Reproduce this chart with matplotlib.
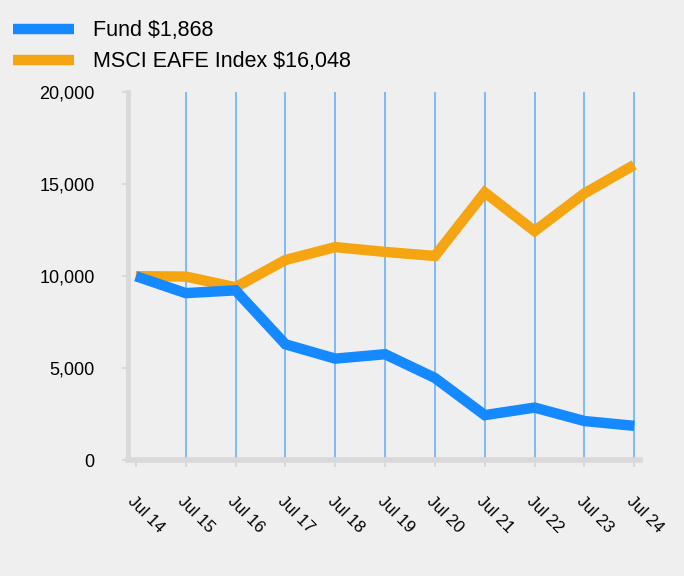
import matplotlib
matplotlib.use('Agg')
import matplotlib.pyplot as plt

# data
years = ['Jul 14', 'Jul 15', 'Jul 16', 'Jul 17', 'Jul 18', 'Jul 19',
         'Jul 20', 'Jul 21', 'Jul 22', 'Jul 23', 'Jul 24']
fund = [10000, 9080, 9230, 6300, 5520, 5760, 4470, 2450, 2860, 2130, 1868]
index = [10000, 9980, 9400, 10880, 11580, 11320, 11100, 14550, 12450, 14500, 16048]
fund_label = 'Fund $1,868'
index_label = 'MSCI EAFE Index $16,048'

BG = '#efefef'
BLUE = '#1589ff'
ORANGE = '#f5a512'
GRID = '#74b6fb'
SPINE = '#d9d9d9'

plt.rcParams['font.family'] = ['Liberation Sans', 'DejaVu Sans']

fig = plt.figure(figsize=(6.84, 5.76), dpi=100, facecolor=BG)
ax = fig.add_axes([0.187, 0.201, 0.749, 0.639], facecolor=BG)

x = list(range(len(years)))
l2, = ax.plot(x, index, color=ORANGE, lw=7.5, solid_joinstyle='miter',
              solid_capstyle='butt', zorder=3)
l1, = ax.plot(x, fund, color=BLUE, lw=7.5, solid_joinstyle='miter',
              solid_capstyle='butt', zorder=4)

ax.set_xlim(-0.16, 10.12)
ax.set_ylim(0, 20000)
ax.set_yticks([0, 5000, 10000, 15000, 20000])
ax.set_yticklabels(['0', '5,000', '10,000', '15,000', '20,000'], fontsize=13)
ax.set_xticks(x)
ax.set_xticklabels(years, fontsize=12, rotation=-45, ha='left', va='top',
                   rotation_mode='anchor')

for xi in x[1:]:
    ax.axvline(xi, color=GRID, lw=1.3, zorder=1)

for s in ['top', 'right']:
    ax.spines[s].set_visible(False)
ax.spines['left'].set_color(SPINE)
ax.spines['left'].set_linewidth(3.5)
ax.spines['bottom'].set_color(SPINE)
ax.spines['bottom'].set_linewidth(4)

ax.tick_params(axis='y', length=4, width=1.5, color=SPINE, pad=20)
ax.tick_params(axis='x', length=5, width=1.5, color=SPINE, pad=19)

fig.legend([l1, l2], [fund_label, index_label], loc='upper left',
           bbox_to_anchor=(-0.012, 1.002), frameon=False, fontsize=15.5,
           handlelength=2.8, handletextpad=0.9, labelspacing=0.45,
           borderaxespad=0.6)

fig.savefig('out.png', dpi=100, facecolor=BG)
